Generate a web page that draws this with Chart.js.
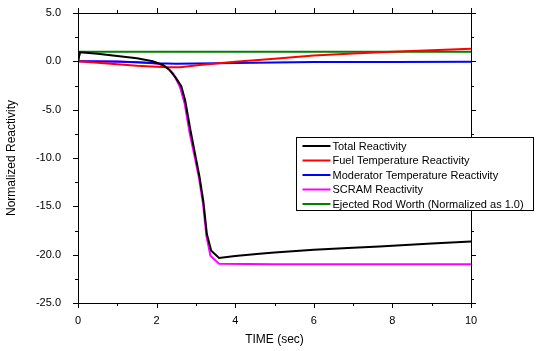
<!DOCTYPE html>
<html>
<head>
<meta charset="utf-8">
<script src="https://cdn.jsdelivr.net/npm/chart.js@4/dist/chart.umd.min.js"></script>
<style>
  html, body { margin: 0; padding: 0; background: #fff; }
  #wrap { width: 536px; height: 351px; }
</style>
</head>
<body>
<div id="wrap"><canvas id="chart" width="536" height="351"></canvas></div>
<script>
// values (time in sec, normalized reactivity)
const totalTime = [0, 0.05, 0.5, 1.0, 1.5, 1.9, 2.16, 2.33, 2.5, 2.63, 2.73, 2.86, 2.98, 3.09, 3.19, 3.28, 3.39, 3.59, 4.0, 4.62, 5.0, 6.0, 7.0, 7.67, 8.0, 9.0, 10.0];
const totalVals = [0, 0.93, 0.78, 0.55, 0.32, 0.0, -0.38, -0.9, -1.76, -2.6, -4.1, -7.1, -9.6, -11.9, -14.5, -17.9, -19.6, -20.35, -20.15, -19.9, -19.78, -19.5, -19.28, -19.15, -19.07, -18.85, -18.64];

const fuelTime = [0, 0.5, 1.0, 1.5, 2.0, 2.3, 2.6, 3.1, 4.0, 5.0, 6.0, 7.0, 8.0, 9.0, 10.0];
const fuelVals = [0, -0.15, -0.3, -0.45, -0.55, -0.62, -0.6, -0.38, -0.05, 0.27, 0.6, 0.82, 1.0, 1.15, 1.3];

const modTime = [0, 1.0, 1.5, 2.0, 2.5, 3.0, 4.0, 5.0, 6.0, 8.0, 10.0];
const modVals = [0, -0.03, -0.1, -0.2, -0.25, -0.22, -0.17, -0.12, -0.08, -0.06, -0.05];

const scramTime = [0, 1.0, 1.5, 1.9, 2.08, 2.25, 2.42, 2.59, 2.71, 2.84, 2.97, 3.08, 3.18, 3.27, 3.37, 3.59, 5.0, 7.0, 10.0];
const scramVals = [0, -0.05, -0.1, -0.2, -0.28, -0.6, -1.24, -2.6, -4.3, -7.4, -9.9, -12.1, -14.7, -18.1, -20.1, -20.95, -21.0, -21.0, -21.0];

const rodTime = [0, 0.05, 10.0];
const rodVals = [0, 1.0, 1.0];

const seriesNames = [
  'Total Reactivity',
  'Fuel Temperature Reactivity',
  'Moderator Temperature Reactivity',
  'SCRAM Reactivity',
  'Ejected Rod Worth (Normalized as 1.0)'
];
const seriesColors = ['#000000', '#ff0000', '#0000ff', '#ff00ff', '#008000'];

const xTicks = [0, 2, 4, 6, 8, 10];
const yTicks = [5, 0, -5, -10, -15, -20, -25];

const FONT = 'Arial, "Liberation Sans", sans-serif';

const toPoints = (ts, vs) => ts.map((t, i) => ({ x: t, y: vs[i] }));
const allSeries = [
  toPoints(totalTime, totalVals),
  toPoints(fuelTime, fuelVals),
  toPoints(modTime, modVals),
  toPoints(scramTime, scramVals),
  toPoints(rodTime, rodVals)
];

// frame, outward ticks (major + minor) on all four sides, and the boxed legend
const framePlugin = {
  id: 'frame',
  afterDraw(chart) {
    const ctx = chart.ctx;
    const { left, right, top, bottom } = chart.chartArea;
    const xs = chart.scales.x, ys = chart.scales.y;
    ctx.save();
    ctx.strokeStyle = '#000';
    ctx.lineWidth = 1;
    ctx.strokeRect(Math.round(left) + 0.5, Math.round(top) + 0.5,
      Math.round(right - left), Math.round(bottom - top));

    ctx.beginPath();
    for (let v = xs.min; v <= xs.max; v += 1) {
      const px = Math.round(xs.getPixelForValue(v)) + 0.5;
      const len = v % 2 === 0 ? 5 : 3;
      ctx.moveTo(px, bottom); ctx.lineTo(px, bottom + len);
      ctx.moveTo(px, top); ctx.lineTo(px, top - len);
    }
    for (let v = ys.min; v <= ys.max; v += 2.5) {
      const py = Math.round(ys.getPixelForValue(v)) + 0.5;
      const len = v % 5 === 0 ? 5 : 3;
      ctx.moveTo(left, py); ctx.lineTo(left - len, py);
      ctx.moveTo(right, py); ctx.lineTo(right + len, py);
    }
    ctx.stroke();

    // legend box
    const bx = Math.round(left + (right - left) * 0.555) + 0.5;
    const by = Math.round(top + (bottom - top) * 0.428) + 0.5;
    const bw = 237, bh = 73;
    ctx.fillStyle = '#fff';
    ctx.fillRect(bx, by, bw, bh);
    ctx.strokeRect(bx, by, bw, bh);
    ctx.font = '11px ' + FONT;
    ctx.textBaseline = 'middle';
    seriesNames.forEach((name, i) => {
      const ry = by + 8.5 + i * 14.5;
      ctx.strokeStyle = seriesColors[i];
      ctx.lineWidth = 2;
      ctx.beginPath();
      ctx.moveTo(bx + 6, ry); ctx.lineTo(bx + 34, ry);
      ctx.stroke();
      ctx.fillStyle = '#000';
      ctx.fillText(name, bx + 36, ry + 0.5);
    });
    ctx.restore();
  }
};

new Chart(document.getElementById('chart').getContext('2d'), {
  type: 'line',
  data: {
    datasets: allSeries.map((pts, i) => ({
      label: seriesNames[i],
      data: pts,
      borderColor: seriesColors[i],
      borderWidth: 2,
      pointRadius: 0,
      fill: false,
      tension: 0
    }))
  },
  options: {
    responsive: false,
    animation: false,
    layout: { padding: { top: 13, right: 65, left: 0, bottom: 0 } },
    plugins: { legend: { display: false }, tooltip: { enabled: false } },
    scales: {
      x: {
        type: 'linear',
        min: 0,
        max: 10,
        afterBuildTicks: (s) => { s.ticks = xTicks.map(v => ({ value: v })); },
        afterFit: (s) => { s.height = 48; s.paddingLeft = 0; s.paddingRight = 0; },
        grid: { display: false },
        border: { display: false },
        ticks: {
          color: '#000',
          padding: 3,
          maxRotation: 0,
          font: { family: FONT, size: 11 },
          callback: (v) => String(v)
        },
        title: {
          display: true,
          text: 'TIME (sec)',
          color: '#000',
          font: { family: FONT, size: 12 },
          padding: { top: 2, bottom: 4 }
        }
      },
      y: {
        min: -25,
        max: 5,
        afterBuildTicks: (s) => { s.ticks = yTicks.map(v => ({ value: v })); },
        afterFit: (s) => { s.width = 78; s.paddingTop = 0; s.paddingBottom = 0; },
        grid: { display: false },
        border: { display: false },
        ticks: {
          color: '#000',
          padding: 9,
          font: { family: FONT, size: 11 },
          callback: (v) => Number(v).toFixed(1)
        },
        title: {
          display: true,
          text: 'Normalized Reactivity',
          color: '#000',
          font: { family: FONT, size: 12 },
          padding: { top: 4, bottom: 2 }
        }
      }
    }
  },
  plugins: [framePlugin]
});
</script>
</body>
</html>
